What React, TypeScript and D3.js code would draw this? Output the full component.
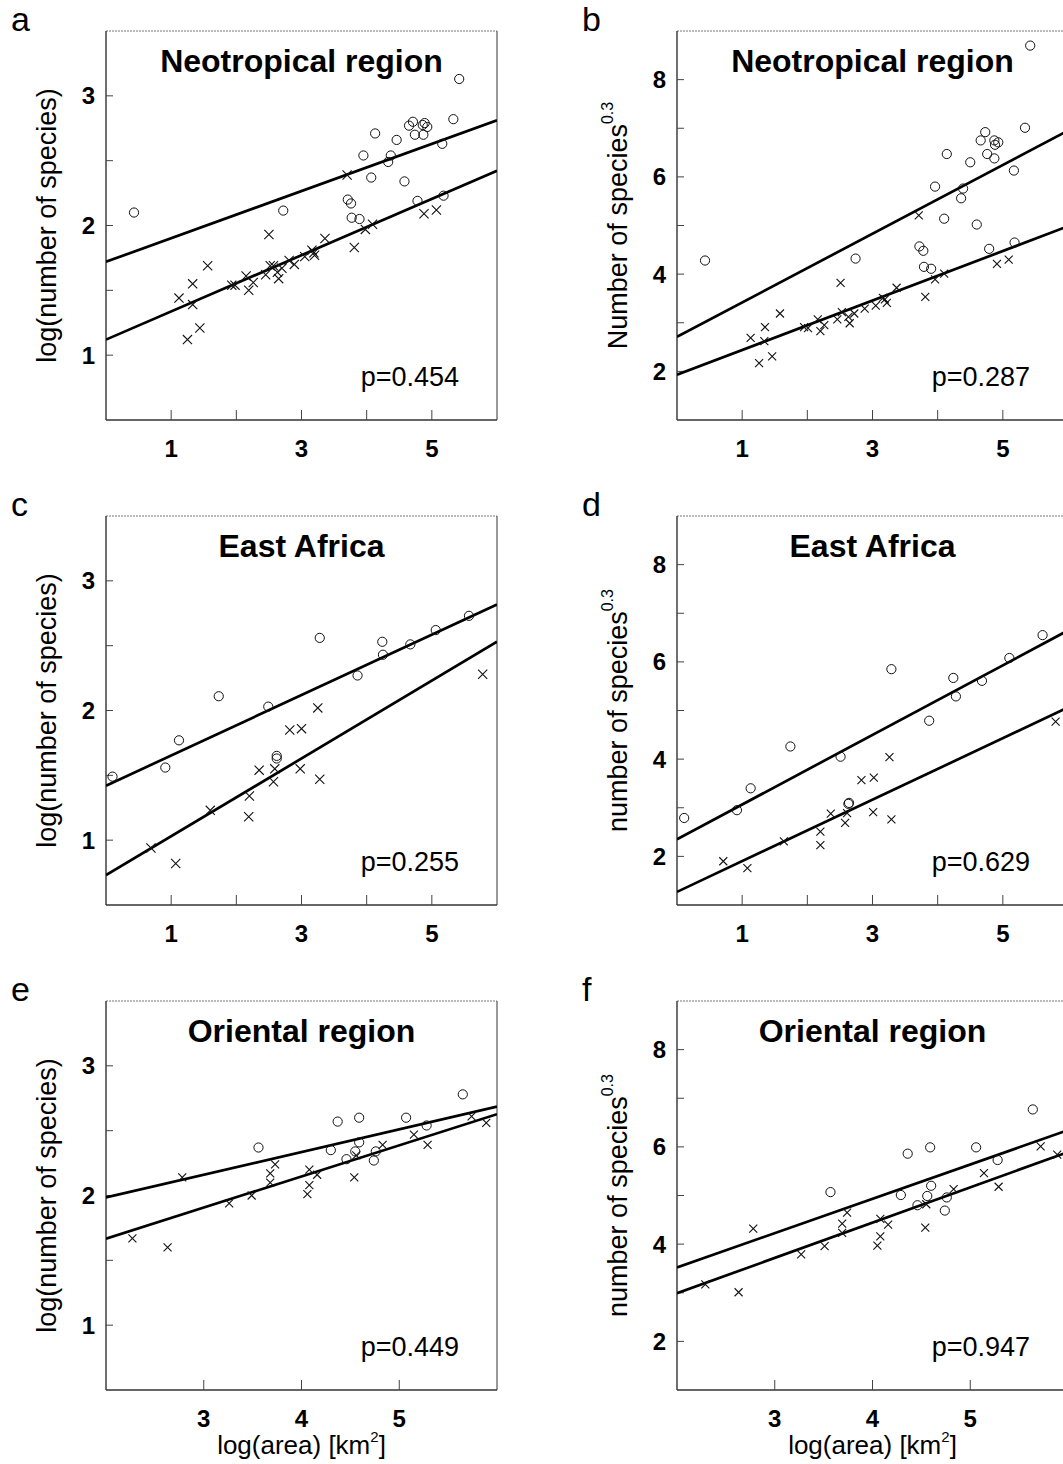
import React from "react";
import * as d3 from "d3";

// ---- data: [log(area), value] pairs per region ----
const neoLogCircles = [
  [0.43, 2.1], [2.72, 2.115], [5.42, 3.13], [5.33, 2.82], [4.71, 2.8], [4.65, 2.77],
  [4.86, 2.775], [4.93, 2.76], [4.89, 2.79], [4.74, 2.7], [4.87, 2.7], [4.13, 2.71],
  [4.46, 2.66], [5.16, 2.63], [4.37, 2.54], [4.33, 2.49], [3.95, 2.54], [4.07, 2.37],
  [4.58, 2.34], [3.71, 2.2], [3.76, 2.17], [3.77, 2.06], [3.89, 2.05], [4.78, 2.19], [5.18, 2.23],
];
const neoLogCrosses = [
  [3.7, 2.39], [2.5, 1.93], [3.36, 1.9], [3.81, 1.83], [4.88, 2.09], [5.07, 2.12],
  [3.98, 1.97], [4.09, 2.01], [1.56, 1.69], [1.33, 1.55], [1.12, 1.44], [1.33, 1.39],
  [1.44, 1.21], [1.25, 1.12], [1.93, 1.54], [1.98, 1.54], [2.15, 1.61], [2.19, 1.5],
  [2.26, 1.56], [2.45, 1.62], [2.52, 1.69], [2.57, 1.69], [2.63, 1.64], [2.65, 1.59],
  [2.7, 1.67], [2.81, 1.73], [2.89, 1.7], [3.05, 1.76], [3.16, 1.81], [3.2, 1.77], [3.19, 1.79],
];
const neoPowCircles = [
  [0.43, 4.28], [2.74, 4.32], [5.42, 8.7], [5.34, 7.01], [4.73, 6.92], [4.66, 6.75],
  [4.87, 6.75], [4.93, 6.71], [4.88, 6.66], [4.14, 6.47], [4.76, 6.47], [4.87, 6.38],
  [4.5, 6.3], [5.17, 6.13], [3.96, 5.8], [4.39, 5.76], [4.36, 5.56], [4.1, 5.14],
  [4.6, 5.02], [3.72, 4.57], [3.78, 4.48], [3.79, 4.15], [3.9, 4.11], [4.79, 4.52], [5.18, 4.65],
];
const neoPowCrosses = [
  [3.71, 5.21], [2.51, 3.82], [3.37, 3.72], [3.81, 3.53], [4.91, 4.21], [5.09, 4.3],
  [3.96, 3.89], [4.1, 4.01], [1.58, 3.19], [1.35, 2.91], [1.13, 2.69], [1.34, 2.62],
  [1.46, 2.31], [1.26, 2.17], [1.95, 2.91], [2.01, 2.89], [2.16, 3.07], [2.2, 2.83],
  [2.26, 2.95], [2.46, 3.07], [2.53, 3.22], [2.63, 3.12], [2.65, 2.99], [2.72, 3.19],
  [2.88, 3.29], [3.05, 3.35], [3.16, 3.51], [3.22, 3.41], [3.19, 3.48],
];
const eafLogCircles = [
  [0.1, 1.49], [0.91, 1.56], [1.12, 1.77], [1.73, 2.11], [2.49, 2.03], [3.28, 2.56],
  [2.62, 1.65], [2.62, 1.63], [3.86, 2.27], [4.24, 2.53], [4.25, 2.43], [4.67, 2.51],
  [5.06, 2.62], [5.57, 2.73],
];
const eafLogCrosses = [
  [0.69, 0.94], [1.07, 0.82], [1.6, 1.23], [2.19, 1.18], [2.2, 1.34], [2.35, 1.54],
  [2.57, 1.45], [2.59, 1.55], [2.82, 1.85], [3.0, 1.86], [2.98, 1.55], [3.25, 2.02],
  [3.28, 1.47], [5.78, 2.28],
];
const eafPowCircles = [
  [0.11, 2.79], [0.92, 2.95], [1.13, 3.4], [1.74, 4.26], [2.51, 4.05], [2.64, 3.1],
  [2.63, 3.08], [3.29, 5.85], [3.87, 4.79], [4.24, 5.67], [4.28, 5.29], [4.68, 5.61],
  [5.1, 6.08], [5.61, 6.55],
];
const eafPowCrosses = [
  [0.71, 1.9], [1.08, 1.76], [1.64, 2.31], [2.2, 2.23], [2.2, 2.51], [2.36, 2.88],
  [2.58, 2.69], [2.61, 2.89], [2.83, 3.57], [3.02, 3.62], [3.01, 2.91], [3.26, 4.04],
  [3.29, 2.76], [5.81, 4.77],
];
const oriLogCircles = [
  [3.56, 2.37], [4.3, 2.35], [4.37, 2.57], [4.59, 2.6], [4.59, 2.41], [4.55, 2.34],
  [4.46, 2.28], [4.76, 2.34], [4.74, 2.27], [5.07, 2.6], [5.28, 2.54], [5.65, 2.78],
];
const oriLogCrosses = [
  [2.27, 1.67], [2.63, 1.6], [2.78, 2.14], [3.26, 1.94], [3.49, 2.0], [3.68, 2.1],
  [3.68, 2.17], [3.73, 2.24], [4.06, 2.01], [4.08, 2.08], [4.08, 2.2], [4.16, 2.16],
  [4.54, 2.14], [4.56, 2.31], [4.83, 2.39], [5.15, 2.47], [5.29, 2.39], [5.74, 2.61], [5.89, 2.56],
];
const oriPowCircles = [
  [3.57, 5.07], [4.29, 5.01], [4.36, 5.86], [4.59, 5.99], [4.6, 5.2], [4.56, 4.99],
  [4.46, 4.8], [4.76, 4.96], [4.74, 4.69], [5.06, 5.99], [5.28, 5.73], [5.64, 6.77],
];
const oriPowCrosses = [
  [2.29, 3.17], [2.63, 3.01], [2.78, 4.32], [3.27, 3.79], [3.51, 3.96], [3.69, 4.23],
  [3.69, 4.42], [3.74, 4.65], [4.05, 3.97], [4.08, 4.16], [4.08, 4.52], [4.16, 4.4],
  [4.54, 4.34], [4.55, 4.82], [4.83, 5.13], [5.14, 5.46], [5.29, 5.18], [5.72, 6.01], [5.89, 5.84],
];

// regression lines: [intercept, slope] for the upper and lower fits
const neoLogFits = [[1.72, 0.182], [1.12, 0.217]];
const neoPowFits = [[2.71, 0.707], [1.93, 0.509]];
const eafLogFits = [[1.42, 0.233], [0.73, 0.3]];
const eafPowFits = [[2.35, 0.716], [1.27, 0.632]];
const oriLogFits = [[1.635, 0.175], [1.187, 0.24]];
const oriPowFits = [[2.108, 0.706], [1.538, 0.726]];

const pValues = ["p=0.454", "p=0.287", "p=0.255", "p=0.629", "p=0.449", "p=0.947"];
const panelLetters = ["a", "b", "c", "d", "e", "f"];
const regionTitles = ["Neotropical region", "East Africa", "Oriental region"];

const logTicks = [1, 1.5, 2, 2.5, 3];
const logTickLabels = [1, 2, 3];
const powTicks = [2, 3, 4, 5, 6, 7, 8];
const powTickLabels = [2, 4, 6, 8];
const wideXTicks = [1, 2, 3, 4, 5];
const wideXLabels = [1, 3, 5];
const narrowXTicks = [3, 4, 5];

const FONT = "'Liberation Sans', Arial, Helvetica, sans-serif";

type Panel = {
  letter: string;
  title: string;
  p: string;
  circles: number[][];
  crosses: number[][];
  fits: number[][];
  xDomain: [number, number];
  yDomain: [number, number];
  xTicks: number[];
  xLabels: number[];
  yTicks: number[];
  yLabels: number[];
  kind: "log" | "pow";
  yTitleCap: boolean;
  showXTitle: boolean;
  left: number;
  top: number;
};

const W = 391;
const H = 389;
const COLS = [106, 677];
const ROWS = [31, 516, 1001];

const panelSpecs = [
  { circles: neoLogCircles, crosses: neoLogCrosses, fits: neoLogFits, kind: "log", title: regionTitles[0], xDomain: [0, 6], row: 0, col: 0, cap: false },
  { circles: neoPowCircles, crosses: neoPowCrosses, fits: neoPowFits, kind: "pow", title: regionTitles[0], xDomain: [0, 6], row: 0, col: 1, cap: true },
  { circles: eafLogCircles, crosses: eafLogCrosses, fits: eafLogFits, kind: "log", title: regionTitles[1], xDomain: [0, 6], row: 1, col: 0, cap: false },
  { circles: eafPowCircles, crosses: eafPowCrosses, fits: eafPowFits, kind: "pow", title: regionTitles[1], xDomain: [0, 6], row: 1, col: 1, cap: false },
  { circles: oriLogCircles, crosses: oriLogCrosses, fits: oriLogFits, kind: "log", title: regionTitles[2], xDomain: [2, 6], row: 2, col: 0, cap: false },
  { circles: oriPowCircles, crosses: oriPowCrosses, fits: oriPowFits, kind: "pow", title: regionTitles[2], xDomain: [2, 6], row: 2, col: 1, cap: false },
];

const panels: Panel[] = panelSpecs.map((d: any, i) => {
  const isLog = d.kind === "log";
  const wide = d.xDomain[0] === 0;
  return {
    letter: panelLetters[i],
    title: d.title,
    p: pValues[i],
    circles: d.circles,
    crosses: d.crosses,
    fits: d.fits,
    xDomain: d.xDomain,
    yDomain: isLog ? [0.5, 3.5] : [1, 9],
    xTicks: wide ? wideXTicks : narrowXTicks,
    xLabels: wide ? wideXLabels : narrowXTicks,
    yTicks: isLog ? logTicks : powTicks,
    yLabels: isLog ? logTickLabels : powTickLabels,
    kind: d.kind,
    yTitleCap: d.cap,
    showXTitle: d.row === 2,
    left: COLS[d.col],
    top: ROWS[d.row],
  } as Panel;
});

function PanelView({ p, idx }: { p: Panel; idx: number }) {
  const x = d3.scaleLinear().domain(p.xDomain).range([0, W]);
  const y = d3.scaleLinear().domain(p.yDomain).range([H, 0]);
  const clipId = `clip-${idx}`;
  const cr = 4.6;
  const xs = p.kind === "log" && p.xDomain[0] === 0 ? 4.6 : 4.0;
  const yTitle = p.kind === "log" ? "log(number of species)" : p.yTitleCap ? "Number of species" : "number of species";

  return (
    <g transform={`translate(${p.left},${p.top})`}>
      <defs>
        <clipPath id={clipId}>
          <rect x={0} y={0} width={W} height={H} />
        </clipPath>
      </defs>
      <text x={-95} y={0} fontFamily={FONT} fontSize={34} fill="#000">
        {p.letter}
      </text>
      {/* frame */}
      <line x1={0} x2={W} y1={0} y2={0} stroke="#777" strokeWidth={1} strokeDasharray="2,1" />
      <line x1={W} x2={W} y1={0} y2={H} stroke="#555" strokeWidth={1.2} />
      <line x1={0} x2={0} y1={0} y2={H} stroke="#333" strokeWidth={1.4} />
      <line x1={0} x2={W} y1={H} y2={H} stroke="#333" strokeWidth={1.4} />
      {/* ticks pointing inward */}
      {p.yTicks.map((t) => (
        <line key={`yt${t}`} x1={0} x2={7} y1={y(t)} y2={y(t)} stroke="#444" strokeWidth={1} />
      ))}
      {p.xTicks.map((t) => (
        <line key={`xt${t}`} x1={x(t)} x2={x(t)} y1={H} y2={H - 10} stroke="#444" strokeWidth={1} />
      ))}
      {p.yLabels.map((t) => (
        <text key={`yl${t}`} x={-11} y={y(t) + 8.5} textAnchor="end" fontFamily={FONT} fontSize={24} fontWeight={600}>
          {t}
        </text>
      ))}
      {p.xLabels.map((t) => (
        <text key={`xl${t}`} x={x(t)} y={H + 37} textAnchor="middle" fontFamily={FONT} fontSize={24} fontWeight={600}>
          {t}
        </text>
      ))}
      <text
        transform={`translate(-50,${H / 2}) rotate(-90)`}
        textAnchor="middle"
        fontFamily={FONT}
        fontSize={27}
      >
        {yTitle}
        {p.kind === "pow" && (
          <tspan fontSize={16} dy={-14}>
            0.3
          </tspan>
        )}
      </text>
      {p.showXTitle && (
        <text x={W / 2} y={H + 64} textAnchor="middle" fontFamily={FONT} fontSize={26}>
          log(area) [km
          <tspan fontSize={15} dy={-12}>
            2
          </tspan>
          <tspan dy={12}>]</tspan>
        </text>
      )}
      <text x={W / 2} y={41} textAnchor="middle" fontFamily={FONT} fontSize={32} fontWeight={700}>
        {p.title}
      </text>
      <text x={W - 38} y={355} textAnchor="end" fontFamily={FONT} fontSize={27}>
        {p.p}
      </text>
      <g clipPath={`url(#${clipId})`}>
        {p.fits.map((f, i) => {
          const pts = p.xDomain.map((v) => [x(v), y(f[0] + f[1] * v)] as [number, number]);
          return (
            <path key={`ln${i}`} d={d3.line()(pts) || ""} fill="none" stroke="#000" strokeWidth={2.7} />
          );
        })}
        {p.circles.map((c, i) => (
          <circle key={`c${i}`} cx={x(c[0])} cy={y(c[1])} r={cr} fill="none" stroke="#111" strokeWidth={1} />
        ))}
        {p.crosses.map((c, i) => {
          const cx = x(c[0]);
          const cy = y(c[1]);
          return (
            <path
              key={`x${i}`}
              d={`M${cx - xs},${cy - xs}L${cx + xs},${cy + xs}M${cx - xs},${cy + xs}L${cx + xs},${cy - xs}`}
              stroke="#111"
              strokeWidth={1.1}
              fill="none"
            />
          );
        })}
      </g>
    </g>
  );
}

export default function App() {
  return (
    <svg
      width={1063}
      height={1464}
      viewBox="0 0 1063 1464"
      style={{ position: "absolute", left: 0, top: 0, background: "#fff" }}
    >
      <rect x={0} y={0} width={1063} height={1464} fill="#fff" />
      {panels.map((p, i) => (
        <PanelView key={i} p={p} idx={i} />
      ))}
    </svg>
  );
}
